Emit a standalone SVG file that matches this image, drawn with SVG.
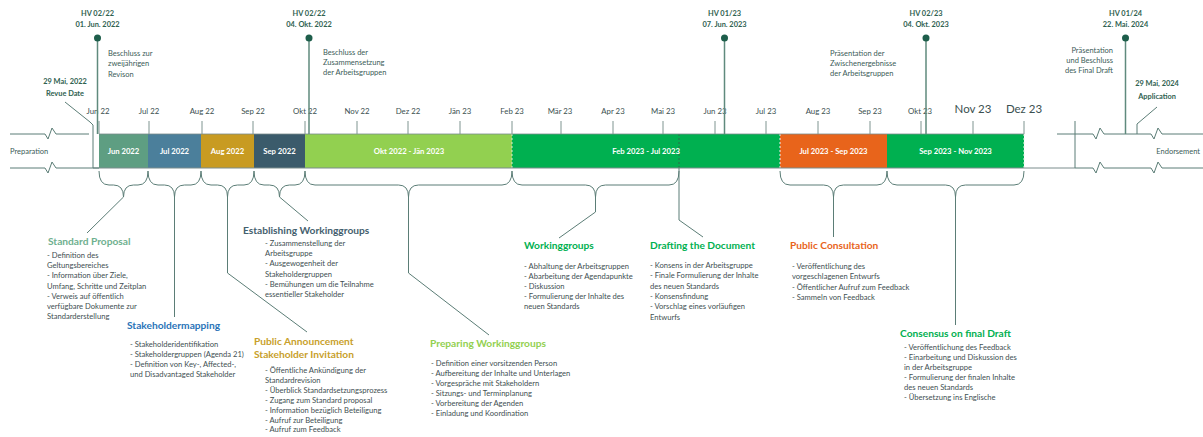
<svg xmlns="http://www.w3.org/2000/svg" width="1203" height="437" viewBox="0 0 1203 437">
<style>
text{font-family:Lato,"Liberation Sans",sans-serif}
.hv{font-size:7.4px;font-weight:bold;fill:#2f6150;text-anchor:middle}
.ann{font-size:7.5px;fill:#3c5c58}
.mon{font-size:7.8px;fill:#3b5050;text-anchor:middle}
.monL{font-size:11.5px;fill:#3b5050;text-anchor:middle}
.bar{font-size:7.7px;font-weight:bold;fill:#ffffff;text-anchor:middle}
.body{font-size:7.6px;fill:#424f52}
.hd{font-size:10.2px;font-weight:bold}
.ln{fill:none;stroke:#5b7d76;stroke-width:1}
.hvl{fill:none;stroke:#5f8a7d;stroke-width:1.5}
.dot{fill:#1e5e4b}
.tick{stroke:#7f9490;stroke-width:1}
</style>
<rect width="1203" height="437" fill="#ffffff"/>

<g id="timeline-bar">
<rect x="99" y="134" width="49" height="34" fill="#5e9e82"/>
<rect x="148" y="134" width="53" height="34" fill="#4b7f9b"/>
<rect x="201" y="134" width="53" height="34" fill="#c89b22"/>
<rect x="254" y="134" width="51" height="34" fill="#3b5b6b"/>
<rect x="305" y="134" width="207" height="34" fill="#92d050"/>
<rect x="512" y="134" width="268" height="34" fill="#00b050"/>
<rect x="780" y="134" width="107" height="34" fill="#e8641b"/>
<rect x="887" y="134" width="137" height="34" fill="#00b050"/>
<line x1="512" y1="134" x2="512" y2="168" stroke="#d8ecd0" stroke-dasharray="2 2"/>
<line x1="679" y1="134" x2="679" y2="168" stroke="#2d6a4a" stroke-dasharray="2 2"/>
<line x1="780" y1="134" x2="780" y2="168" stroke="#f3f3f3" stroke-dasharray="2 2"/>
<line x1="1024" y1="134" x2="1024" y2="168" stroke="#e6f3e6" stroke-dasharray="2 2"/>
<line x1="99" y1="134" x2="1024" y2="134" stroke="#7a8c8c" stroke-width="0.8"/>
<line x1="93" y1="168" x2="1075" y2="168" stroke="#7a8c8c" stroke-width="1"/>
<text class="bar" x="123.5" y="154">Jun 2022</text>
<text class="bar" x="174.5" y="154">Jul 2022</text>
<text class="bar" x="227.5" y="154">Aug 2022</text>
<text class="bar" x="279.5" y="154">Sep 2022</text>
<text class="bar" x="409" y="154">Okt 2022 - Jän 2023</text>
<text class="bar" x="646" y="154">Feb 2023 - Jul 2023</text>
<text class="bar" x="833.5" y="154">Jul 2023 - Sep 2023</text>
<text class="bar" x="955.5" y="154">Sep 2023 - Nov 2023</text>
</g>

<g id="breaks">
<path class="ln" d="M10 134 L45 134 L48 139 L52 128 L56 134 L89 134"/>
<path class="ln" d="M10 168 L45 168 L48 173 L52 162 L56 168 L99 168"/>
<path class="ln" d="M1057 134 L1093 134 L1096 139 L1100 128 L1104 134 L1151 134 L1154 139 L1158 128 L1162 134 L1203 134"/>
<path class="ln" d="M1075 168 L1093 168 L1096 173 L1100 162 L1104 168 L1151 168 L1154 173 L1158 162 L1162 168 L1203 168"/>
<line class="ln" x1="1075" y1="121" x2="1075" y2="168"/>
<text class="ann" x="10" y="154">Preparation</text>
<text class="ann" x="1200" y="154" text-anchor="end">Endorsement</text>
</g>

<g id="months">
<g class="tick">
<line x1="99" y1="121" x2="99" y2="134"/><line x1="149" y1="121" x2="149" y2="134"/><line x1="202" y1="121" x2="202" y2="134"/><line x1="253" y1="121" x2="253" y2="134"/><line x1="305" y1="121" x2="305" y2="134"/><line x1="357" y1="121" x2="357" y2="134"/><line x1="408" y1="121" x2="408" y2="134"/><line x1="460" y1="121" x2="460" y2="134"/><line x1="512" y1="121" x2="512" y2="134"/><line x1="561" y1="121" x2="561" y2="134"/><line x1="613" y1="121" x2="613" y2="134"/><line x1="663" y1="121" x2="663" y2="134"/><line x1="715" y1="121" x2="715" y2="134"/><line x1="766" y1="121" x2="766" y2="134"/><line x1="818" y1="121" x2="818" y2="134"/><line x1="870" y1="121" x2="870" y2="134"/><line x1="921" y1="121" x2="921" y2="134"/><line x1="973" y1="121" x2="973" y2="134"/><line x1="1024" y1="121" x2="1024" y2="134"/>
</g>
<text class="mon" x="98" y="114">Jun 22</text>
<text class="mon" x="149" y="114">Jul 22</text>
<text class="mon" x="202" y="114">Aug 22</text>
<text class="mon" x="253" y="114">Sep 22</text>
<text class="mon" x="305" y="114">Okt 22</text>
<text class="mon" x="357" y="114">Nov 22</text>
<text class="mon" x="408" y="114">Dez 22</text>
<text class="mon" x="460" y="114">Jän 23</text>
<text class="mon" x="512" y="114">Feb 23</text>
<text class="mon" x="560" y="114">Mär 23</text>
<text class="mon" x="613" y="114">Apr 23</text>
<text class="mon" x="663" y="114">Mai 23</text>
<text class="mon" x="715" y="114">Jun 23</text>
<text class="mon" x="766" y="114">Jul 23</text>
<text class="mon" x="818" y="114">Aug 23</text>
<text class="mon" x="870" y="114">Sep 23</text>
<text class="mon" x="920" y="114">Okt 23</text>
<text class="monL" x="973" y="113">Nov 23</text>
<text class="monL" x="1024" y="113">Dez 23</text>
</g>

<g id="milestones">
<line class="hvl" x1="97.5" y1="38" x2="97.5" y2="134"/><circle class="dot" cx="97.5" cy="38" r="3.5"/>
<text class="hv" x="97.5" y="16">HV 02/22</text><text class="hv" x="97.5" y="27">01. Jun. 2022</text>
<text class="ann"><tspan x="108" y="56">Beschluss zur</tspan><tspan x="108" y="66">zweijährigen</tspan><tspan x="108" y="76.5">Revison</tspan></text>

<line class="hvl" x1="309" y1="38" x2="309" y2="134"/><circle class="dot" cx="309" cy="38" r="3.5"/>
<text class="hv" x="309" y="16">HV 02/22</text><text class="hv" x="309" y="27">04. Okt. 2022</text>
<text class="ann"><tspan x="323" y="55">Beschluss der</tspan><tspan x="323" y="65">Zusammensetzung</tspan><tspan x="323" y="75">der Arbeitsgruppen</tspan></text>

<line class="hvl" x1="724.5" y1="38" x2="724.5" y2="134"/><circle class="dot" cx="724.5" cy="38" r="3.5"/>
<text class="hv" x="724.5" y="16">HV 01/23</text><text class="hv" x="724.5" y="27">07. Jun. 2023</text>
<text class="ann"><tspan x="830" y="55.5">Präsentation der</tspan><tspan x="830" y="65.5">Zwischenergebnisse</tspan><tspan x="830" y="75.5">der Arbeitsgruppen</tspan></text>

<line class="hvl" x1="926" y1="38" x2="926" y2="134"/><circle class="dot" cx="926" cy="38" r="3.5"/>
<text class="hv" x="926" y="16">HV 02/23</text><text class="hv" x="926" y="27">04. Okt. 2023</text>

<line class="hvl" x1="1125.5" y1="38" x2="1125.5" y2="134"/><circle class="dot" cx="1125.5" cy="38" r="3.5"/>
<text class="hv" x="1125.5" y="16">HV 01/24</text><text class="hv" x="1125.5" y="27">22. Mai. 2024</text>
<text class="ann" text-anchor="end"><tspan x="1113" y="53">Präsentation</tspan><tspan x="1113" y="63">und Beschluss</tspan><tspan x="1113" y="73">des Final Draft</tspan></text>

<path class="ln" d="M65 102 L90 122 L93 125 L93 168"/>
<text class="hv" x="65" y="84">29 Mai, 2022</text><text class="hv" x="65" y="95.5">Revue Date</text>
<path class="ln" d="M1157 107 L1137 124 L1137 134"/>
<text class="hv" x="1157" y="86">29 Mai, 2024</text><text class="hv" x="1157" y="99">Application</text>
</g>

<g id="connectors">
<path class="ln" d="M99 171 Q99 185 109 185 L113.5 185 Q123.5 185 123.5 197 Q123.5 185 133.5 185 L138 185 Q148 185 148 171"/>
<path class="ln" d="M148 171 Q148 185 158 185 L164.5 185 Q174.5 185 174.5 197 Q174.5 185 184.5 185 L191 185 Q201 185 201 171"/>
<path class="ln" d="M201 171 Q201 185 211 185 L217.5 185 Q227.5 185 227.5 197 Q227.5 185 237.5 185 L244 185 Q254 185 254 171"/>
<path class="ln" d="M254 171 Q254 185 264 185 L269.5 185 Q279.5 185 279.5 197 Q279.5 185 289.5 185 L295 185 Q305 185 305 171"/>
<path class="ln" d="M305 171 Q305 185 315 185 L398.5 185 Q408.5 185 408.5 197 Q408.5 185 418.5 185 L502 185 Q512 185 512 171"/>
<path class="ln" d="M512 171 Q512 185 522 185 L585.5 185 Q595.5 185 595.5 197 Q595.5 185 605.5 185 L669 185 Q679 185 679 171"/>
<path class="ln" d="M780 171 Q780 185 790 185 L823.5 185 Q833.5 185 833.5 197 Q833.5 185 843.5 185 L877 185 Q887 185 887 171"/>
<path class="ln" d="M887 171 Q887 185 897 185 L945.5 185 Q955.5 185 955.5 197 Q955.5 185 965.5 185 L1014 185 Q1024 185 1024 171"/>
<path class="ln" d="M123.5 197 L87 233"/>
<path class="ln" d="M174.5 197 L174.5 317"/>
<path class="ln" d="M227.5 197 L227.5 273 L307 332"/>
<path class="ln" d="M279.5 197 L308 221"/>
<path class="ln" d="M408.5 197 L408.5 273 L489 335"/>
<path class="ln" d="M595.5 197 L595.5 212 L559 238"/>
<path class="ln" d="M679 168 L679 220 L703 237"/>
<path class="ln" d="M833.5 197 L833.5 237"/>
<path class="ln" d="M955.5 197 L955.5 325"/>
</g>

<g id="standard-proposal">
<text class="hd" x="48" y="245" fill="#6fb08f">Standard Proposal</text>
<text class="body"><tspan x="47" y="258">- Definition des</tspan><tspan x="47" dy="10.2">Geltungsbereiches</tspan><tspan x="47" dy="10.2">- Information über Ziele,</tspan><tspan x="47" dy="10.2">Umfang, Schritte und Zeitplan</tspan><tspan x="47" dy="10.2">- Verweis auf öffentlich</tspan><tspan x="47" dy="10.2">verfügbare Dokumente zur</tspan><tspan x="47" dy="10.2">Standarderstellung</tspan></text>
</g>

<g id="stakeholdermapping">
<text class="hd" x="127" y="329" fill="#2a73b8">Stakeholdermapping</text>
<text class="body"><tspan x="130" y="347">- Stakeholderidentifikation</tspan><tspan x="130" dy="10">- Stakeholdergruppen (Agenda 21)</tspan><tspan x="130" dy="10">- Definition von Key-, Affected-,</tspan><tspan x="130" dy="10">und Disadvantaged Stakeholder</tspan></text>
</g>

<g id="establishing-workinggroups">
<text class="hd" x="243" y="234" fill="#44606e">Establishing Workinggroups</text>
<text class="body"><tspan x="265" y="246">- Zusammenstellung der</tspan><tspan x="265" dy="10.2">Arbeitsgruppe</tspan><tspan x="265" dy="10.2">- Ausgewogenheit der</tspan><tspan x="265" dy="10.2">Stakeholdergruppen</tspan><tspan x="265" dy="10.2">- Bemühungen um die Teilnahme</tspan><tspan x="265" dy="10.2">essentieller Stakeholder</tspan></text>
</g>

<g id="public-announcement">
<text class="hd" fill="#c8a02a"><tspan x="254" y="345">Public Announcement</tspan><tspan x="254" y="358">Stakeholder Invitation</tspan></text>
<text class="body"><tspan x="265" y="373">- Öffentliche Ankündigung der</tspan><tspan x="265" dy="9.9">Standardrevision</tspan><tspan x="265" dy="9.9">- Überblick Standardsetzungsprozess</tspan><tspan x="265" dy="9.9">- Zugang zum Standard proposal</tspan><tspan x="265" dy="9.9">- Information bezüglich Beteiligung</tspan><tspan x="265" dy="9.9">- Aufruf zur Beteiligung</tspan><tspan x="265" dy="9.9">- Aufruf zum Feedback</tspan></text>
</g>

<g id="preparing-workinggroups">
<text class="hd" x="430" y="347" fill="#92d050">Preparing Workinggroups</text>
<text class="body"><tspan x="431" y="366">- Definition einer vorsitzenden Person</tspan><tspan x="431" dy="10">- Aufbereitung der Inhalte und Unterlagen</tspan><tspan x="431" dy="10">- Vorgespräche mit Stakeholdern</tspan><tspan x="431" dy="10">- Sitzungs- und Terminplanung</tspan><tspan x="431" dy="10">- Vorbereitung der Agenden</tspan><tspan x="431" dy="10">- Einladung und Koordination</tspan></text>
</g>

<g id="workinggroups">
<text class="hd" x="524" y="249" fill="#00b050">Workinggroups</text>
<text class="body"><tspan x="524" y="269">- Abhaltung der Arbeitsgruppen</tspan><tspan x="524" dy="10">- Abarbeitung der Agendapunkte</tspan><tspan x="524" dy="10">- Diskussion</tspan><tspan x="524" dy="10">- Formulierung der Inhalte des</tspan><tspan x="524" dy="10">neuen Standards</tspan></text>
</g>

<g id="drafting-the-document">
<text class="hd" x="650" y="249" fill="#00b050">Drafting the Document</text>
<text class="body"><tspan x="650" y="268">- Konsens in der Arbeitsgruppe</tspan><tspan x="650" dy="10.3">- Finale Formulierung der Inhalte</tspan><tspan x="650" dy="10.3">des neuen Standards</tspan><tspan x="650" dy="10.3">- Konsensfindung</tspan><tspan x="650" dy="10.3">- Vorschlag eines vorläufigen</tspan><tspan x="650" dy="10.3">Entwurfs</tspan></text>
</g>

<g id="public-consultation">
<text class="hd" x="790" y="249" fill="#e8641b">Public Consultation</text>
<text class="body"><tspan x="792" y="269">- Veröffentlichung des</tspan><tspan x="792" dy="10.3">vorgeschlagenen Entwurfs</tspan><tspan x="792" dy="10.3">- Öffentlicher Aufruf zum Feedback</tspan><tspan x="792" dy="10.3">- Sammeln von Feedback</tspan></text>
</g>

<g id="consensus-on-final-draft">
<text class="hd" x="900" y="337" fill="#00b050">Consensus on final Draft</text>
<text class="body"><tspan x="904" y="350">- Veröffentlichung des Feedback</tspan><tspan x="904" dy="10">- Einarbeitung und Diskussion des</tspan><tspan x="904" dy="10">in der Arbeitsgruppe</tspan><tspan x="904" dy="10">- Formulierung der finalen Inhalte</tspan><tspan x="904" dy="10">des neuen Standards</tspan><tspan x="904" dy="10">- Übersetzung ins Englische</tspan></text>
</g>
</svg>
